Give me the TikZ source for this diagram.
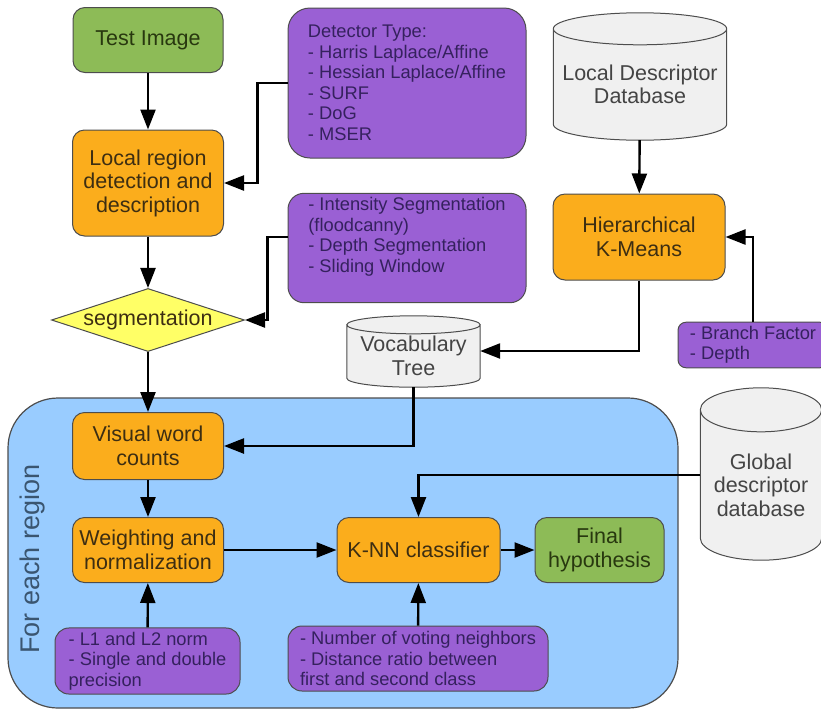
\documentclass[tikz,border=0pt]{standalone}
\usepackage{fontspec}
\setmainfont{Liberation Sans}
\usetikzlibrary{arrows.meta,shapes.geometric,calc,backgrounds}
\definecolor{procorange}{HTML}{FBAD1C}
\definecolor{termgreen}{HTML}{8DBB57}
\definecolor{parampurple}{HTML}{9A60D4}
\definecolor{loopblue}{HTML}{99CCFF}
\definecolor{storegray}{HTML}{E4E4E4}
\definecolor{storetop}{HTML}{F0F0F0}
\definecolor{decyellow}{HTML}{FFFF66}
\definecolor{edgegray}{HTML}{4D4D4D}
\definecolor{inkbrown}{HTML}{3D2E12}
\definecolor{inkgreen}{HTML}{28380F}
\definecolor{inkpurple}{HTML}{35215E}
\definecolor{inkgray}{HTML}{444444}
\definecolor{inkslate}{HTML}{3A5570}

\begin{document}
\begin{tikzpicture}[
    x=1pt, y=-1pt,
    box/.style={draw=edgegray, line width=1pt, rounded corners=12pt, align=center,
        font=\fontsize{21.5}{23.5}\selectfont, inner sep=4pt},
    process/.style={box, fill=procorange, text=inkbrown, minimum width=151pt, minimum height=66pt},
    terminal/.style={box, fill=termgreen, text=inkgreen, minimum height=65pt},
    param/.style={box, fill=parampurple, text=inkpurple, align=left,
        font=\fontsize{18.3}{20.5}\selectfont, rounded corners=14pt},
    decision/.style={diamond, draw=edgegray, line width=1pt, fill=decyellow, inner sep=0pt,
        aspect=3, font=\fontsize{21.5}{23.5}\selectfont, text=inkbrown},
    store/.style={inner sep=0pt, align=center, font=\fontsize{21.5}{23.5}\selectfont, text=inkgray},
    cylbody/.style={fill=storegray, draw=edgegray, line width=1pt},
    cyltop/.style={fill=storetop, draw=edgegray, line width=1pt},
    region/.style={draw=edgegray, line width=1.2pt, fill=loopblue, rounded corners=50pt},
    flow/.style={-{Triangle[length=20pt,width=15pt]}, line width=2.4pt}
]
\useasboundingbox (0,0) rectangle (821,713);

% loop region behind everything
\node[region, minimum width=670pt, minimum height=310pt] (loop) at (343,553) {};
\node[rotate=90, font=\fontsize{27}{30}\selectfont, text=inkslate] (looplabel) at (33,559) {For each region};

% left column
\node[terminal, minimum width=150pt] (test) at (148,40) {Test Image};
\node[process, minimum height=106pt] (local) at (148,183) {Local region\\detection and\\description};
\node[decision, minimum width=193pt, minimum height=63pt] (seg) at (148,320) {segmentation};
\node[process, minimum height=67pt] (visual) at (148,446) {Visual word\\counts};
\node[process, minimum height=65pt] (weight) at (148,550) {Weighting and\\normalization};
\node[param, minimum width=185pt, minimum height=66pt] (norm) at (147.5,661)
    {- L1 and L2 norm\\- Single and double\\precision};

% parameter boxes
\node[param, minimum width=238pt, minimum height=150pt, rounded corners=22pt] (det) at (407,83)
    {Detector Type:\\- Harris Laplace/Affine\\- Hessian Laplace/Affine\\- SURF\\- DoG\\- MSER};
\node[param, minimum width=238pt, minimum height=106pt, rounded corners=16pt] (segbox) at (407,248)
    {- Intensity Segmentation\\(floodcanny)\\- Depth Segmentation\\- Sliding Window\\\strut};
\node[param, minimum width=150pt, minimum height=44pt, rounded corners=8pt] (branch) at (753,345)
    {- Branch Factor\\- Depth};

% databases (body from top ellipse centre down to the bottom)
\node[store, minimum width=173pt, minimum height=111pt] (ldd) at (640,84.5) {Local Descriptor\\Database};
\node[process, minimum width=172pt, minimum height=86pt] (hkm) at (639,237) {Hierarchical\\K-Means};
\node[store, minimum width=133pt, minimum height=62pt] (vocab) at (413.5,356) {Vocabulary\\Tree};
\node[store, minimum width=121pt, minimum height=150pt] (glob) at (761,485) {Global\\descriptor\\database};

\begin{scope}[on background layer]
\foreach \cyl/\ry in {ldd/16pt, vocab/9pt, glob/22pt}{
    \path let \p1 = ($(\cyl.east)-(\cyl.center)$) in
        [cylbody] (\cyl.north west) -- ([yshift=\ry]\cyl.south west)
        arc[start angle=180, end angle=360, x radius=\x1, y radius=\ry] -- (\cyl.north east)
        [cyltop] (\cyl.north) ellipse[x radius=\x1, y radius=\ry];
}
\end{scope}

% classification
\node[process, minimum width=163pt, minimum height=65pt] (knn) at (418.5,550) {K-NN classifier};
\node[terminal, minimum width=129pt] (final) at (599.5,550) {Final\\hypothesis};
\node[param, minimum width=260pt, minimum height=65pt] (vote) at (418,658.5)
    {- Number of voting neighbors\\- Distance ratio between\\first and second class};

% connectors
\draw[flow] (test) -- (local);
\draw[flow] (det.west) -- ++(-30,0) |- (local.east);
\draw[flow] (local) -- (seg);
\draw[flow] ([yshift=11pt]segbox.west) -- ++(-20,0) |- (seg.east);
\draw[flow] (ldd) -- (hkm);
\draw[flow] (branch.north) |- (hkm.east);
\draw[flow] (hkm.south) |- ([yshift=5pt]vocab.east);
\draw[flow] (seg) -- (visual);
\draw[flow] (vocab.south) |- (visual.east);
\draw[flow] (visual) -- (weight);
\draw[flow] (norm) -- (weight);
\draw[flow] (weight) -- (knn);
\draw[flow] (vote) -- (knn);
\draw[flow] (knn) -- (final);
\draw[flow] ([yshift=10pt]glob.west) -| (knn.north);

\end{tikzpicture}
\end{document}
